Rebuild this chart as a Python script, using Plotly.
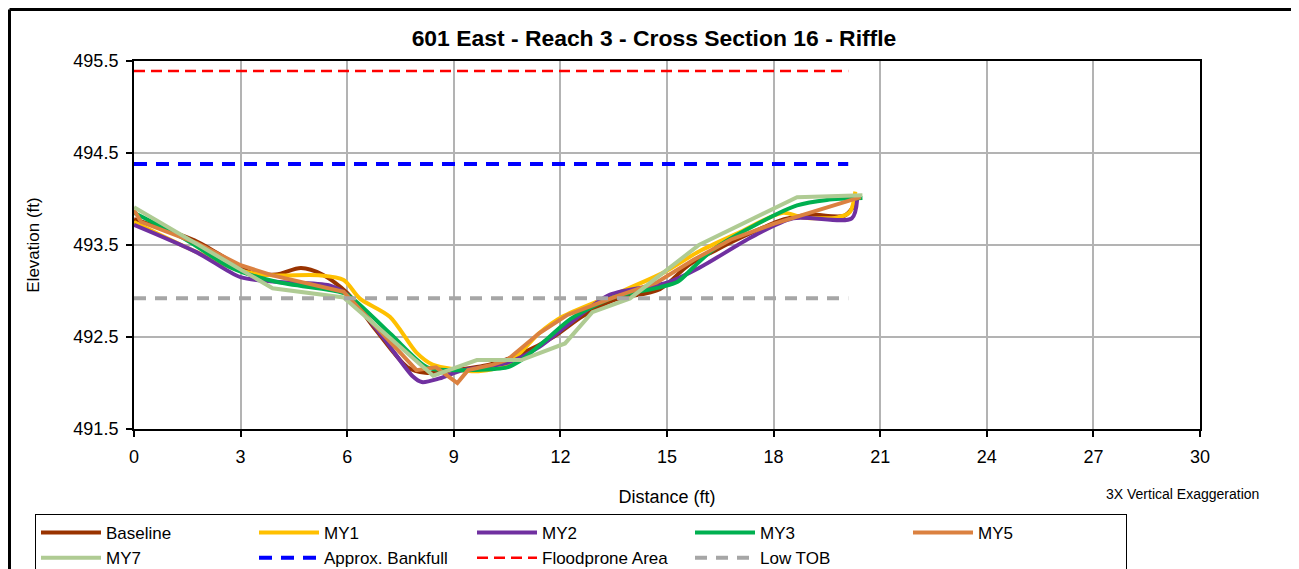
import plotly.graph_objects as go

# ---------------- data ----------------
baseline_x = [0, 1.7, 2.4, 3.3, 4.0, 4.7, 5.3, 6.0, 6.8, 7.7, 8.2, 9.0, 10.0, 10.9, 11.8, 12.6, 13.5, 14.8, 15.6, 16.4, 17.3, 18.3, 19.0, 20.0, 20.3]
baseline_y = [493.78, 493.55, 493.4, 493.2, 493.18, 493.25, 493.18, 492.98, 492.58, 492.17, 492.11, 492.14, 492.2, 492.32, 492.5, 492.72, 492.9, 493.02, 493.28, 493.45, 493.62, 493.78, 493.83, 493.82, 493.95]

my1_x = [0, 1.5, 3.0, 3.9, 5.2, 5.9, 6.35, 7.2, 7.95, 8.4, 9.0, 9.75, 10.5, 10.95, 11.4, 12.05, 13.5, 14.9, 15.9, 17.0, 18.27, 18.8, 19.8, 20.15, 20.3]
my1_y = [493.75, 493.47, 493.22, 493.17, 493.17, 493.12, 492.92, 492.72, 492.33, 492.2, 492.15, 492.13, 492.2, 492.36, 492.54, 492.72, 492.96, 493.2, 493.43, 493.63, 493.85, 493.8, 493.8, 493.86, 494.08]

my2_x = [0, 1.77, 3.0, 4.0, 5.5, 6.0, 7.0, 7.85, 8.1, 8.6, 9.25, 10.5, 11.4, 12.2, 13.4, 15.0, 15.9, 17.4, 18.55, 20.2, 20.35]
my2_y = [493.72, 493.42, 493.15, 493.1, 493.06, 492.96, 492.5, 492.07, 492.01, 492.05, 492.14, 492.22, 492.39, 492.63, 492.96, 493.09, 493.25, 493.59, 493.79, 493.79, 493.99]

my3_x = [0, 1.5, 2.7, 4.0, 5.5, 6.0, 7.2, 8.25, 8.9, 9.5, 10.5, 10.9, 11.6, 12.3, 13.5, 14.8, 15.3, 15.75, 16.3, 17.5, 18.66, 19.5, 20.5]
my3_y = [493.85, 493.55, 493.26, 493.1, 493.01, 492.96, 492.54, 492.17, 492.14, 492.14, 492.17, 492.25, 492.47, 492.7, 492.93, 493.04, 493.1, 493.26, 493.45, 493.72, 493.93, 493.99, 494.01]

my5_x = [0, 0.2, 1.77, 3.0, 3.9, 5.9, 7.95, 8.5, 9.1, 9.4, 10.1, 10.5, 11.4, 12.2, 13.5, 14.7, 15.75, 16.8, 18.0, 20.45]
my5_y = [493.88, 493.75, 493.52, 493.28, 493.17, 492.99, 492.14, 492.17, 492.0, 492.14, 492.2, 492.25, 492.54, 492.74, 492.93, 493.09, 493.34, 493.56, 493.73, 494.02]

my7_x = [0, 3.9, 5.9, 8.42, 9.65, 10.9, 12.13, 12.9, 13.96, 15.9, 18.66, 20.5]
my7_y = [493.91, 493.03, 492.93, 492.08, 492.25, 492.25, 492.43, 492.77, 492.92, 493.5, 494.02, 494.04]

ref_x = [0, 20.1]
bankfull_y = [494.38, 494.38]
floodprone_y = [495.39, 495.39]
low_tob_y = [492.92, 492.92]

x_ticks = [0, 3, 6, 9, 12, 15, 18, 21, 24, 27, 30]
y_ticks = [491.5, 492.5, 493.5, 494.5, 495.5]

title_text = "601 East - Reach 3 - Cross Section 16 - Riffle"

# ---------------- figure ----------------
FONT = "Liberation Sans, Arial, sans-serif"
fig = go.Figure()

series = [
    ("Baseline", baseline_x, baseline_y, "#993300", "spline"),
    ("MY1", my1_x, my1_y, "#FFC000", "spline"),
    ("MY2", my2_x, my2_y, "#7030A0", "spline"),
    ("MY3", my3_x, my3_y, "#00B050", "spline"),
    ("MY5", my5_x, my5_y, "#DB8140", "linear"),
    ("MY7", my7_x, my7_y, "#AFCB93", "linear"),
]
for name, xs, ys, col, shape in series:
    line = dict(color=col, width=4, shape=shape)
    if shape == "spline":
        line["smoothing"] = 0.8
    fig.add_trace(go.Scatter(x=xs, y=ys, mode="lines", name=name, line=line))

refs = [
    ("Approx. Bankfull", bankfull_y, "#0000FF", 4, "13px,9px"),
    ("Floodprone Area", floodprone_y, "#FF0000", 2.5, "11px,6px"),
    ("Low TOB", low_tob_y, "#A6A6A6", 4, "12px,9px"),
]
for name, ys, col, w, dash in refs:
    fig.add_trace(go.Scatter(x=ref_x, y=ys, mode="lines", name=name,
                             line=dict(color=col, width=w, dash=dash)))

# page body has an 8px margin; compensate so the plot area lands at 134..1200 x 61..429
OFF = 8
W, H = 1299 - OFF, 569 - OFF
L, R, T, B = 134 - OFF, 99, 61 - OFF, 140
pw, ph = W - L - R, H - T - B

def px2paper_x(px):
    return (px - OFF - L) / pw

def px2paper_y(py):
    return (H - B - (py - OFF)) / ph

fig.update_layout(
    width=W, height=H,
    margin=dict(l=L, r=R, t=T, b=B, autoexpand=False),
    paper_bgcolor="white", plot_bgcolor="white",
    font=dict(family=FONT, color="black", size=17),
    title=dict(text="<b>" + title_text + "</b>", x=px2paper_x(654), xref="paper",
               xanchor="center", y=1 - (38 - OFF) / H, yanchor="middle",
               font=dict(size=22.9, family=FONT, color="black")),
    showlegend=True,
    legend=dict(orientation="h", x=px2paper_x(35), xanchor="left",
                y=px2paper_y(514), yanchor="top",
                bordercolor="black", borderwidth=1,
                font=dict(size=17, family=FONT),
                itemwidth=60, entrywidth=143, entrywidthmode="pixels",
                tracegroupgap=0, traceorder="normal"),
    xaxis=dict(range=[0, 30], tickvals=x_ticks, ticktext=[str(v) for v in x_ticks],
               showgrid=True, gridcolor="#B3B3B3", gridwidth=1.5,
               showline=True, linecolor="black", linewidth=2, mirror=True,
               ticks="outside", ticklen=6, tickcolor="black", tickwidth=1.5,
               ticklabelstandoff=4,
               tickfont=dict(size=18), zeroline=False,
               title=dict(text="Distance (ft)", font=dict(size=18), standoff=25)),
    yaxis=dict(range=[491.5, 495.5], tickvals=y_ticks, ticktext=[f"{v:.1f}" for v in y_ticks],
               showgrid=True, gridcolor="#B3B3B3", gridwidth=1.5,
               showline=True, linecolor="black", linewidth=2, mirror=True,
               ticks="outside", ticklen=6, tickcolor="black", tickwidth=1.5,
               ticklabelstandoff=4,
               tickfont=dict(size=18), zeroline=False,
               title=dict(text="Elevation (ft)", font=dict(size=17), standoff=29)),
)

fig.add_annotation(text="3X Vertical Exaggeration", xref="paper", yref="paper",
                   x=px2paper_x(1182), y=px2paper_y(494), xanchor="center", yanchor="middle",
                   showarrow=False, font=dict(size=14, family=FONT, color="black"))

# outer chart border (drawn as separate lines, kept inside the figure)
bx0, bx1 = px2paper_x(OFF + 1.5), px2paper_x(1294)
by_top, by_bot = px2paper_y(OFF + 1.5), px2paper_y(600)
for (xa, ya, xb, yb) in [(bx0, by_top, bx1, by_top), (bx0, by_top, bx0, by_bot),
                         (bx1, by_top, bx1, by_bot)]:
    fig.add_shape(type="line", xref="paper", yref="paper", x0=xa, y0=ya, x1=xb, y1=yb,
                  line=dict(color="black", width=3), layer="above")

fig.write_html("out.html")
